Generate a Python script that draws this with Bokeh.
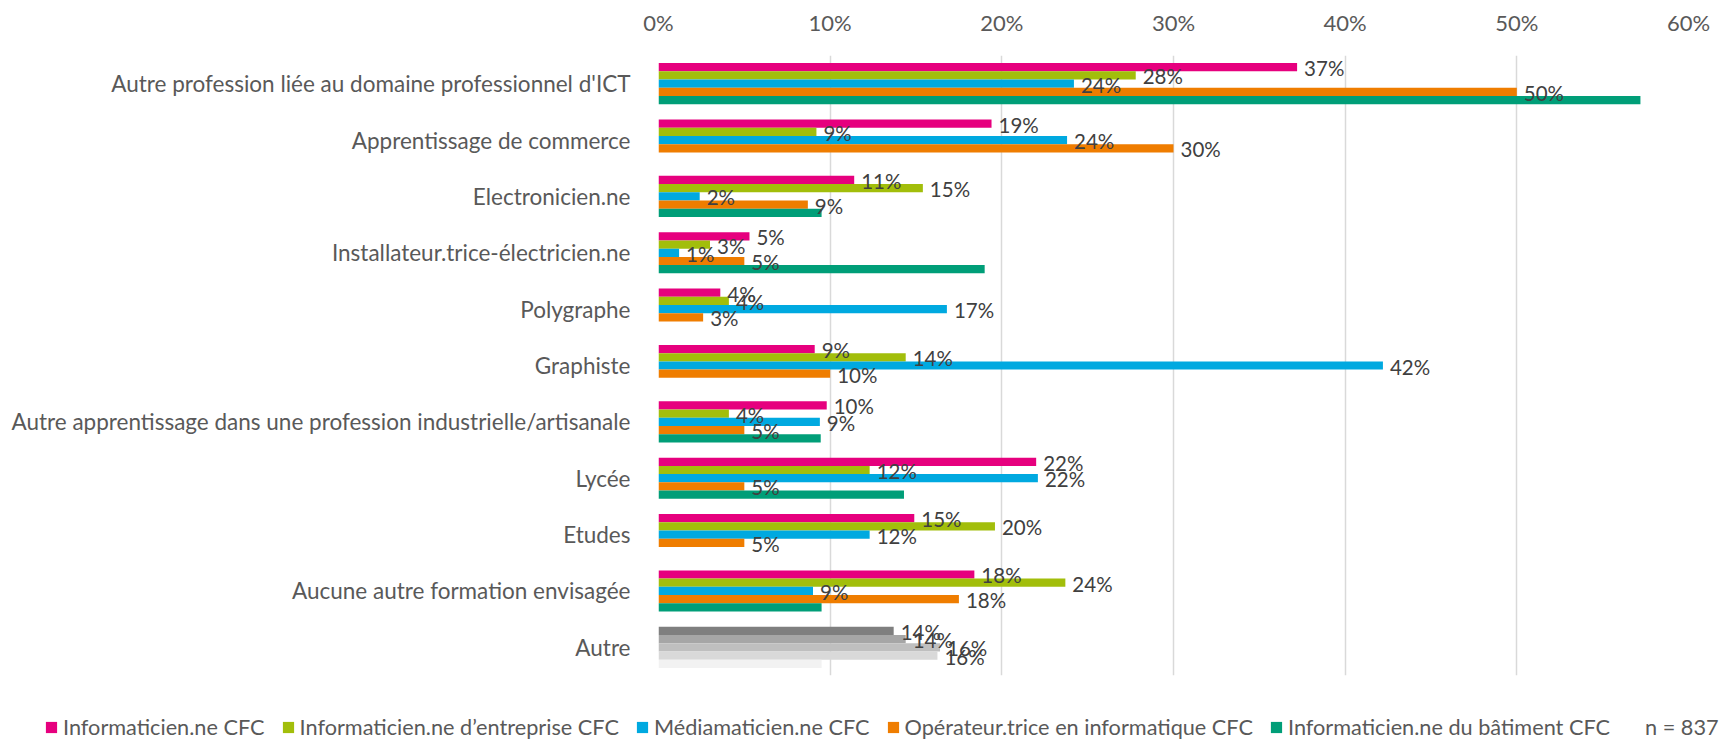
from bokeh.plotting import figure
from bokeh.models import (ColumnDataSource, FactorRange, Legend, LegendItem,
                          SingleIntervalTicker, PrintfTickFormatter)
from bokeh.transform import dodge
from bokeh.core.properties import value
from bokeh.embed import file_html
from bokeh.resources import INLINE

# ---------------- data ----------------
categories = [
    "Autre profession liée au domaine professionnel d'ICT",
    "Apprentissage de commerce",
    "Electronicien.ne",
    "Installateur.trice-électricien.ne",
    "Polygraphe",
    "Graphiste",
    "Autre apprentissage dans une profession industrielle/artisanale",
    "Lycée",
    "Etudes",
    "Aucune autre formation envisagée",
    "Autre",
]

series_names = [
    "Informaticien.ne CFC",
    "Informaticien.ne d\u2019entreprise CFC",
    "Médiamaticien.ne CFC",
    "Opérateur.trice en informatique CFC",
    "Informaticien.ne du bâtiment CFC",
]

informaticien = [37.2, 19.4, 11.4, 5.3, 3.6, 9.1, 9.8, 22.0, 14.9, 18.4, 13.7]
entreprise = [27.8, 9.2, 15.4, 3.0, 4.1, 14.4, 4.1, 12.3, 19.6, 23.7, 14.4]
mediamaticien = [24.2, 23.8, 2.4, 1.2, 16.8, 42.2, 9.4, 22.1, 12.3, 9.0, 16.4]
operateur = [50.0, 30.0, 8.7, 5.0, 2.6, 10.0, 5.0, 5.0, 5.0, 17.5, 16.25]
batiment = [57.2, 0.0, 9.5, 19.0, 0.0, 0.0, 9.45, 14.3, 0.0, 9.5, 9.5]

series_values = [informaticien, entreprise, mediamaticien, operateur, batiment]
labelled = [True, True, True, True, False]

n_text = "n = 837"

# ---------------- styles ----------------
series_colors = ["#E6007E", "#A2BE0B", "#00A9E0", "#EF7D00", "#009E78"]
autre_colors = ["#7F7F7F", "#A6A6A6", "#BFBFBF", "#D9D9D9", "#F2F2F2"]
FONT = "Lato"
BAR_H = 0.146
LEFT = 658
W = 1725

p = figure(
    width=W, height=700,
    y_range=FactorRange(factors=list(reversed(categories)), range_padding=0),
    x_range=(0, 60),
    x_axis_location="above",
    output_backend="svg", toolbar_location=None,
    min_border_left=LEFT, min_border_right=37,
    min_border_top=55, min_border_bottom=25,
)
p.outline_line_color = None

# axes
p.xaxis.ticker = SingleIntervalTicker(interval=10)
p.xaxis.formatter = PrintfTickFormatter(format="%d%%")
for ax in (p.xaxis, p.yaxis):
    ax.axis_line_color = None
    ax.major_tick_line_color = None
    ax.minor_tick_line_color = None
    ax.major_label_text_font = FONT
    ax.major_label_text_color = "#595959"
p.xaxis.major_label_text_font_size = "22px"
p.yaxis.major_label_text_font_size = "22.5px"
p.xaxis.major_label_standoff = 14
p.yaxis.major_label_standoff = 22

p.xgrid.grid_line_color = "#D9D9D9"
p.xgrid.grid_line_width = 1.5
p.ygrid.grid_line_color = None

main_cats = categories[:-1]
label_sources = []
for i, (vals, col) in enumerate(zip(series_values, series_colors)):
    off = (2 - i) * BAR_H
    src = ColumnDataSource(dict(cat=main_cats, v=vals[:-1]))
    p.hbar(y=dodge("cat", off, range=p.y_range), left=0, right="v",
           height=BAR_H, source=src, fill_color=col, line_color=None)
    # "Autre" category drawn in greys
    s_autre = ColumnDataSource(dict(cat=[categories[-1]], v=[vals[-1]]))
    p.hbar(y=dodge("cat", off, range=p.y_range), left=0, right="v",
           height=BAR_H, source=s_autre, fill_color=autre_colors[i], line_color=None)
    if labelled[i]:
        pairs = [(c, v) for c, v in zip(categories, vals) if v > 0]
        label_sources.append((off, ColumnDataSource(dict(
            cat=[c for c, _ in pairs],
            v=[v for _, v in pairs],
            lab=[f"{int(v + 0.5)}%" for _, v in pairs],
        ))))

# data labels drawn on top of every bar
for off, lsrc in label_sources:
    p.text(x="v", y=dodge("cat", off, range=p.y_range), text="lab",
           source=lsrc, x_offset=7, y_offset=1,
           text_font=value(FONT), text_font_size=value("20.5px"),
           text_color="#404040", text_baseline="middle", text_align="left")

# ---------------- legend strip (separate root, full-width frame) ----------------
lg = figure(width=W, height=40, output_backend="svg", toolbar_location=None,
            x_axis_type=None, y_axis_type=None, x_range=(0, 1), y_range=(0, 1),
            min_border=0)
lg.outline_line_color = None
lg.grid.grid_line_color = None
items = []
for name, col in zip(series_names, series_colors):
    # swatch renderers: their single box lies outside the visible range
    r = lg.quad(left=[-10], right=[-9], bottom=[-10], top=[-9],
                fill_color=col, line_color=None)
    items.append(LegendItem(label=name, renderers=[r]))
r_n = lg.quad(left=[-10], right=[-9], bottom=[-10], top=[-9],
              fill_alpha=0, line_alpha=0)
items.append(LegendItem(label=n_text, renderers=[r_n]))

legend = Legend(
    items=items, orientation="horizontal", location=(44, 0),
    glyph_width=14, glyph_height=14, label_standoff=5, spacing=16,
    padding=0, margin=0, border_line_color=None, background_fill_alpha=0,
    label_text_font=FONT, label_text_font_size="21.7px", label_text_color="#595959",
)
lg.add_layout(legend, "center")

open("out.html", "w").write(file_html([p, lg], INLINE))
